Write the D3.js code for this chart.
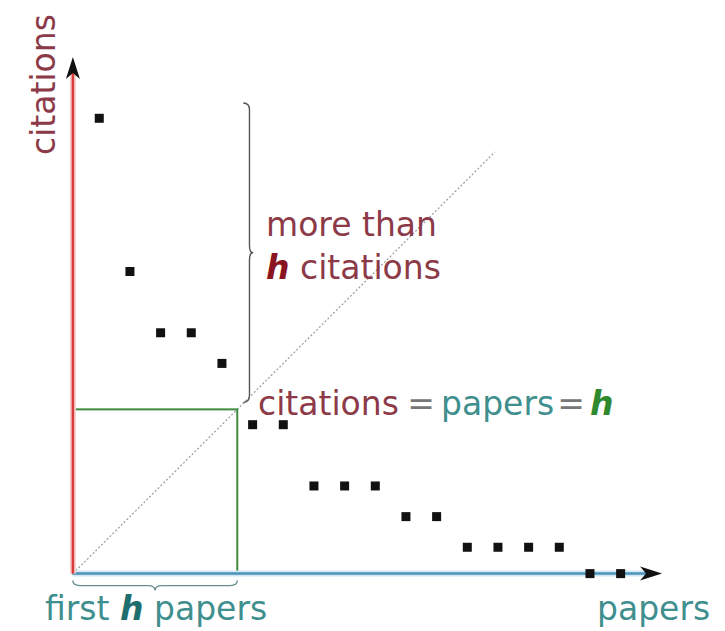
<!DOCTYPE html>
<html>
<head>
<meta charset="utf-8">
<script src="https://cdn.jsdelivr.net/npm/d3@7"></script>
<style>
  body { margin: 0; background: #fff; }
  svg { display: block; font-family: 'DejaVu Sans', sans-serif; }
</style>
</head>
<body>
<script>
// papers ranked by citation count
const papers = [1, 2, 3, 4, 5, 6, 7, 8, 9, 10, 11, 12, 13, 14, 15, 16, 17, 18];
const citations = [15, 10, 8, 8, 7, 5, 5, 3, 3, 3, 2, 2, 1, 1, 1, 1, 0, 0];
const hIndex = 5;
const axisLabels = ['citations', 'papers'];

const width = 725;
const height = 631;
const origin = 0.14;

const svg = d3.select('body').append('svg').attr('width', width).attr('height', height);

const x = d3.scaleLinear().domain([0, 19]).range([68.6, 651.3]);
const y = d3.scaleLinear().domain([0, 17]).range([577.9, 57]);

const maroon = '#8c3a48';
const teal = '#3f8f8f';

// diagonal citations = papers
svg.append('line')
	.attr('x1', x(origin)).attr('y1', y(origin))
	.attr('x2', x(13.9)).attr('y2', y(13.9))
	.attr('stroke', '#9a9a9a').attr('stroke-width', 1.2).attr('stroke-dasharray', '2,2');

// h square
svg.append('rect')
	.attr('x', x(origin)).attr('y', y(hIndex + 0.5))
	.attr('width', x(hIndex + 0.5) - x(origin))
	.attr('height', y(origin) - y(hIndex + 0.5))
	.attr('fill', 'none').attr('stroke', '#3f8a3f').attr('stroke-width', 2);

// axes
function arrow(tx, ty, angle, color) {
	const pts = [[0, 0], [-22, -7], [-16, 0], [-22, 7]];
	const a = angle * Math.PI / 180;
	const p = pts.map(([px, py]) => [tx + px * Math.cos(a) - py * Math.sin(a), ty + px * Math.sin(a) + py * Math.cos(a)]);
	svg.append('path').attr('d', 'M' + p.join('L') + 'Z').attr('fill', color);
}

svg.append('line').attr('x1', x(origin)).attr('y1', y(origin)).attr('x2', x(19.1)).attr('y2', y(origin))
	.attr('stroke', '#cfe7f1').attr('stroke-width', 6);
svg.append('line').attr('x1', x(origin)).attr('y1', y(origin)).attr('x2', x(19.1)).attr('y2', y(origin))
	.attr('stroke', '#4a93bb').attr('stroke-width', 2.5);
svg.append('line').attr('x1', x(origin)).attr('y1', y(origin)).attr('x2', x(origin)).attr('y2', y(16.6))
	.attr('stroke', '#f8d0d0').attr('stroke-width', 6);
svg.append('line').attr('x1', x(origin)).attr('y1', y(origin)).attr('x2', x(origin)).attr('y2', y(16.6))
	.attr('stroke', '#d93a3a').attr('stroke-width', 2.5);
arrow(x(19.35), y(origin), 0, '#111');
arrow(x(origin), y(17), -90, '#111');

// points (zero-citation papers sit on the axis)
const pts = papers.map((p, i) => ({ p, c: citations[i] }));
const s = 9;
svg.selectAll('rect.pt')
	.data(pts)
	.enter()
	.append('rect')
	.attr('class', 'pt')
	.attr('x', (d) => x(d.p) - s / 2)
	.attr('y', (d) => y(Math.max(d.c, origin)) - s / 2)
	.attr('width', s)
	.attr('height', s)
	.attr('fill', '#111');

// braces
function braceV(bx, y0, y1, w) {
	const m = (y0 + y1) / 2, q = 7, l = bx + w * 0.62;
	return `M${bx},${y0} Q${l},${y0} ${l},${y0 + q} L${l},${m - q} Q${l},${m} ${bx + w},${m} ` +
		`Q${l},${m} ${l},${m + q} L${l},${y1 - q} Q${l},${y1} ${bx},${y1}`;
}
function braceH(x0, x1, by, w) {
	const m = (x0 + x1) / 2, q = 7, l = by + w * 0.5;
	return `M${x0},${by} Q${x0},${l} ${x0 + q},${l} L${m - q},${l} Q${m},${l} ${m},${by + w} ` +
		`Q${m},${l} ${m + q},${l} L${x1 - q},${l} Q${x1},${l} ${x1},${by}`;
}
svg.append('path').attr('d', braceV(x(hIndex + 0.5) + 6, y(15.5), y(5.73), 10))
	.attr('fill', 'none').attr('stroke', '#555').attr('stroke-width', 1.4);
svg.append('path').attr('d', braceH(x(origin), x(hIndex + 0.5), y(origin) + 7, 10))
	.attr('fill', 'none').attr('stroke', '#6a8f8f').attr('stroke-width', 1.4);

// labels
const fs = 33;
svg.append('text').attr('transform', 'translate(55,155) rotate(-90)')
	.attr('font-size', fs).attr('fill', maroon).text(axisLabels[0]);
svg.append('text').attr('x', 597).attr('y', 620).attr('font-size', fs).attr('fill', teal).text(axisLabels[1]);

svg.append('text').attr('x', 266).attr('y', 236).attr('font-size', fs).attr('fill', maroon).text('more than');
const t2 = svg.append('text').attr('x', 266).attr('y', 279).attr('font-size', fs).attr('fill', maroon);
t2.append('tspan').attr('font-weight', 'bold').attr('font-style', 'italic').attr('fill', '#8a1420').text('h');
t2.append('tspan').text(' citations');

svg.append('text').attr('x', 258).attr('y', 415).attr('font-size', fs).attr('fill', maroon).text('citations');
svg.append('text').attr('x', 421).attr('y', 415).attr('font-size', fs).attr('text-anchor', 'middle').attr('fill', '#777').text('=');
svg.append('text').attr('x', 441).attr('y', 415).attr('font-size', fs).attr('fill', teal).text('papers');
svg.append('text').attr('x', 571).attr('y', 415).attr('font-size', fs).attr('text-anchor', 'middle').attr('fill', '#777').text('=');
svg.append('text').attr('x', 590).attr('y', 415).attr('font-size', fs).attr('font-weight', 'bold').attr('font-style', 'italic')
	.attr('fill', '#2f8a2f').text('h');

const t3 = svg.append('text').attr('x', 45).attr('y', 620).attr('font-size', fs).attr('fill', teal);
t3.append('tspan').text('first ');
t3.append('tspan').attr('font-weight', 'bold').attr('font-style', 'italic').attr('fill', '#1f6e6e').text('h');
t3.append('tspan').text(' papers');
</script>
</body>
</html>
